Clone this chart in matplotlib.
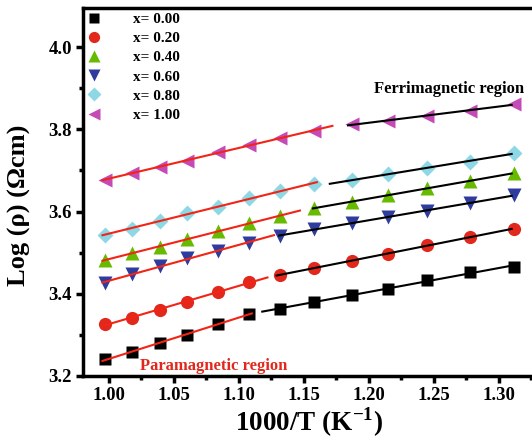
import numpy as np
import matplotlib
matplotlib.use("Agg")
import matplotlib.pyplot as plt
from matplotlib.ticker import MultipleLocator

plt.rcParams['font.family'] = ['Liberation Serif', 'DejaVu Serif']
plt.rcParams['font.weight'] = 'bold'
plt.rcParams['mathtext.fontset'] = 'custom'
plt.rcParams['mathtext.rm'] = 'Liberation Serif:bold'
plt.rcParams['mathtext.bf'] = 'Liberation Serif:bold'

# 1000/T values (K^-1)
inv_T = [0.997, 1.018, 1.039, 1.060, 1.084, 1.108, 1.132, 1.158, 1.187, 1.215, 1.245, 1.278, 1.312]

labels = ["x= 0.00", "x= 0.20", "x= 0.40", "x= 0.60", "x= 0.80", "x= 1.00"]

log_rho_000 = [3.241, 3.258, 3.280, 3.300, 3.327, 3.351, 3.363, 3.380, 3.397, 3.412, 3.434, 3.453, 3.465]
log_rho_020 = [3.327, 3.341, 3.361, 3.380, 3.404, 3.429, 3.446, 3.463, 3.480, 3.497, 3.519, 3.538, 3.558]
log_rho_040 = [3.482, 3.499, 3.514, 3.533, 3.553, 3.572, 3.589, 3.609, 3.623, 3.640, 3.657, 3.674, 3.694]
log_rho_060 = [3.426, 3.448, 3.468, 3.487, 3.504, 3.524, 3.541, 3.558, 3.572, 3.587, 3.601, 3.621, 3.640]
log_rho_080 = [3.543, 3.558, 3.577, 3.597, 3.611, 3.633, 3.650, 3.667, 3.677, 3.691, 3.706, 3.721, 3.743]
log_rho_100 = [3.677, 3.694, 3.709, 3.723, 3.745, 3.762, 3.779, 3.796, 3.813, 3.820, 3.833, 3.845, 3.862]

series = [log_rho_000, log_rho_020, log_rho_040, log_rho_060, log_rho_080, log_rho_100]

# number of points in the paramagnetic (red) fit for each series
n_para = [6, 6, 7, 6, 8, 8]
# extent of the fitted lines
para_end = [1.110, 1.122, 1.147, 1.127, 1.160, 1.172]
ferri_start = [1.118, 1.129, 1.157, 1.131, 1.170, 1.184]
line_lo, line_hi = 0.995, 1.310

colors = ['#000000', '#E2281C', '#66BB00', '#2E3C9E', '#8ED8E6', '#C44BB6']
markers = ['s', 'o', '^', 'v', 'D', '<']
msizes = [8, 9.5, 9.5, 9.5, 8, 9.5]

fig = plt.figure(figsize=(5.32, 4.46), dpi=100)
ax = fig.add_axes([0.156, 0.157, 0.849, 0.825])

x = np.array(inv_T)
for i, y in enumerate(series):
    y = np.array(y)
    k = n_para[i]
    p1 = np.polyfit(x[:k], y[:k], 1)
    p2 = np.polyfit(x[k:], y[k:], 1)
    xs1 = np.array([line_lo, para_end[i]])
    xs2 = np.array([ferri_start[i], line_hi])
    ax.plot(x, y, linestyle='none', marker=markers[i], ms=msizes[i],
            color=colors[i], mec='none', label=labels[i], zorder=2)
    ax.plot(xs1, np.polyval(p1, xs1), color='#F22415', lw=1.5, zorder=3)
    ax.plot(xs2, np.polyval(p2, xs2), color='black', lw=1.5, zorder=3)

ax.set_xlim(0.980, 1.3277)
ax.set_ylim(3.2, 4.095)
ax.xaxis.set_major_locator(MultipleLocator(0.05))
ax.xaxis.set_minor_locator(MultipleLocator(0.025))
ax.yaxis.set_major_locator(MultipleLocator(0.2))
ax.yaxis.set_minor_locator(MultipleLocator(0.1))
ax.xaxis.set_major_formatter(plt.FormatStrFormatter('%.2f'))
ax.yaxis.set_major_formatter(plt.FormatStrFormatter('%.1f'))

for s in ax.spines.values():
    s.set_linewidth(2.5)
ax.tick_params(which='major', direction='out', length=5, width=2.5, labelsize=13.5, pad=3)
ax.tick_params(which='minor', direction='out', length=3, width=2.5)
for lab in ax.get_xticklabels() + ax.get_yticklabels():
    lab.set_fontweight('bold')

ax.set_xlabel('1000/T (K$^{\\mathbf{-1}}$)', fontsize=19.5, fontweight='bold', labelpad=1)
ax.set_ylabel('Log (\u03c1) (\u03a9cm)', fontsize=19, fontweight='bold')
ax.yaxis.set_label_coords(-0.115, 0.465)

ax.text(1.204, 3.888, 'Ferrimagnetic region', fontsize=12, fontweight='bold', color='black')
ax.text(1.024, 3.215, 'Paramagnetic region', fontsize=12, fontweight='bold', color='#E2281C')

ax.legend(loc='upper left', frameon=False, fontsize=11, handletextpad=1.5,
          labelspacing=0.36, borderaxespad=0.0, markerscale=0.85,
          bbox_to_anchor=(-0.022, 1.005))

fig.savefig('out.png', dpi=100)
